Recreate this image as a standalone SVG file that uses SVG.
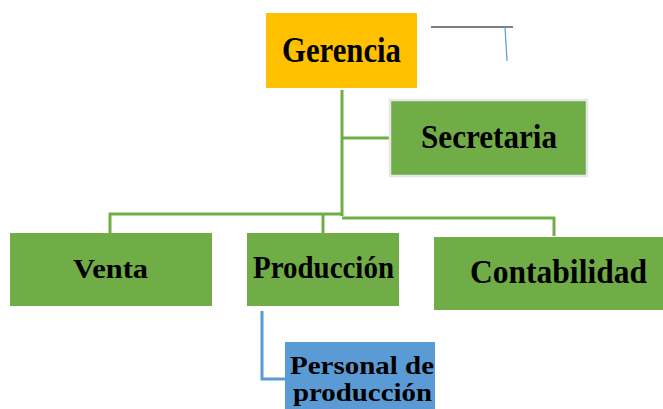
<svg xmlns="http://www.w3.org/2000/svg" width="663" height="409" viewBox="0 0 663 409">
<style>
.g{fill:#70AD47}
.c{fill:none;stroke:#70AD47;stroke-width:3}
</style>
<rect width="663" height="409" fill="#fff"/>
<g id="connectors">
<polyline class="c" points="342,90 342,216"/>
<polyline class="c" points="342,138 389,138"/>
<polyline class="c" points="110,233 110,214 342,214"/>
<polyline class="c" points="323,233 323,214"/>
<polyline class="c" points="342,218 554,218 554,236"/>
<polyline fill="none" stroke="#5B9BD5" stroke-width="3" points="262,311 262,379 286,379"/>
<line x1="431" y1="27" x2="513" y2="27" stroke="#000" stroke-width="1.2"/>
<line x1="505" y1="27" x2="507" y2="61" stroke="#5B9BD5" stroke-width="1.2"/>
</g>
<g id="gerencia">
<rect x="266" y="13" width="151" height="75" fill="#FFC000"/>
<text x="341.5" y="61.5" font-family="Liberation Serif" font-weight="bold" text-anchor="middle" font-size="35" textLength="119" lengthAdjust="spacingAndGlyphs">Gerencia</text>
</g>
<g id="secretaria">
<rect x="390" y="100" width="197" height="76" class="g" stroke="#E6E6E6" stroke-width="2.5"/>
<text x="489" y="148.3" font-family="Liberation Serif" font-weight="bold" text-anchor="middle" font-size="34" textLength="136" lengthAdjust="spacingAndGlyphs">Secretaria</text>
</g>
<g id="venta">
<rect x="10" y="233" width="202" height="73" class="g"/>
<text x="110.5" y="277.5" font-family="Liberation Serif" font-weight="bold" text-anchor="middle" font-size="28" textLength="75" lengthAdjust="spacingAndGlyphs">Venta</text>
</g>
<g id="produccion">
<rect x="247" y="233" width="152" height="73" class="g"/>
<text x="323.5" y="278" font-family="Liberation Serif" font-weight="bold" text-anchor="middle" font-size="31" textLength="141" lengthAdjust="spacingAndGlyphs">Producción</text>
</g>
<g id="contabilidad">
<rect x="434" y="237" width="229" height="73" class="g"/>
<text x="558.5" y="283.3" font-family="Liberation Serif" font-weight="bold" text-anchor="middle" font-size="33" textLength="177" lengthAdjust="spacingAndGlyphs">Contabilidad</text>
</g>
<g id="personal">
<rect x="285" y="342" width="150" height="67" fill="#5B9BD5"/>
<text x="362" y="374" font-family="Liberation Serif" font-weight="bold" text-anchor="middle" font-size="26" textLength="144" lengthAdjust="spacingAndGlyphs">Personal de</text>
<text x="362.5" y="401" font-family="Liberation Serif" font-weight="bold" text-anchor="middle" font-size="26" textLength="139" lengthAdjust="spacingAndGlyphs">producción</text>
</g>
</svg>
